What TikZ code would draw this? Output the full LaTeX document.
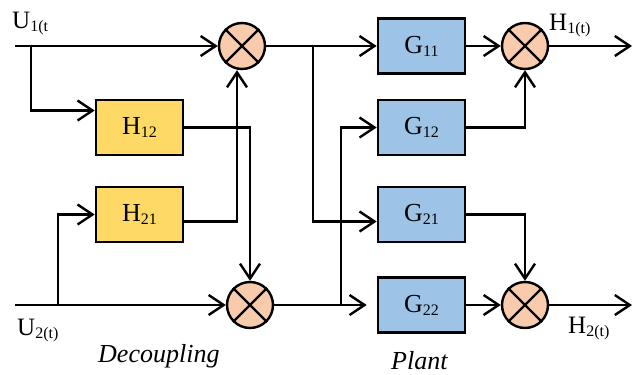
\documentclass[tikz,border=0pt]{standalone}
\usepackage{fontspec}
\setmainfont{Liberation Serif}
\usetikzlibrary{arrows.meta}
\definecolor{hfill}{HTML}{FFD966}
\definecolor{gfill}{HTML}{9DC3E6}
\definecolor{mfill}{HTML}{F8CBAD}
\newcommand{\sbs}[1]{\raisebox{-3pt}{\fontsize{16}{16}\selectfont #1}}

\begin{document}
\begin{tikzpicture}[x=1pt,y=-1pt,line width=2.4pt,
    >={Straight Barb[length=15pt,width=20pt]},
    hbox/.style={draw,fill=hfill,line width=2.6pt,minimum width=87pt,minimum height=55pt,inner sep=0pt,font=\fontsize{26}{26}\selectfont},
    gbox/.style={hbox,fill=gfill},
    mix/.style={draw,circle,fill=mfill,minimum size=46pt,inner sep=0pt},
    lbl/.style={anchor=base west,inner sep=0pt,font=\fontsize{25}{25}\selectfont}]
    \useasboundingbox (0,0) rectangle (633,375);

    \node[hbox] (h12) at (139.5,127.5) {H\sbs{12}};
    \node[hbox] (h21) at (139.5,214.5) {H\sbs{21}};
    \node[gbox] (g11) at (421.5,46) {G\sbs{11}};
    \node[gbox] (g12) at (421.5,127.5) {G\sbs{12}};
    \node[gbox] (g21) at (421.5,214.5) {G\sbs{21}};
    \node[gbox] (g22) at (421.5,305) {G\sbs{22}};

    \node[mix] (m1) at (242,46) {};
    \node[mix] (m2) at (250,305) {};
    \node[mix] (m3) at (525,46) {};
    \node[mix] (m4) at (525,305) {};
    \foreach \m in {m1,m2,m3,m4}
      \draw (\m.north west) -- (\m.south east) (\m.north east) -- (\m.south west);

    \coordinate (u1) at (15,46);
    \coordinate (u2) at (15,305);
    \coordinate (b1) at (31,46);
    \coordinate (b2) at (58,305);
    \coordinate (b3) at (313,46);
    \coordinate (b4) at (341,305);
    \coordinate (y1) at (632,46);
    \coordinate (y2) at (632,305);

    \draw[->] (u1) -- (m1.west);
    \draw[->] (b1) |- ([yshift=17pt]h12.west);
    \draw[->] (u2) -- (m2.west);
    \draw[->] (b2) |- (h21.west);
    \draw[->] (h12.east) -| (m2.north);
    \draw[->] ([yshift=-7pt]h21.east) -| ([xshift=-5pt]m1.south);

    \draw[->] (m1.east) -- (g11.west);
    \draw[->] (b3) |- ([yshift=-7pt]g21.west);
    \draw[->] (m2.east) -- ([xshift=-10pt]g22.west);
    \draw[->] (b4) |- (g12.west);

    \draw[->] (g11.east) -- (m3.west);
    \draw[->] (g12.east) -| (m3.south);
    \draw[->] (g21.east) -| (m4.north);
    \draw[->] (g22.east) -- (m4.west);
    \draw[->] (m3.east) -- (y1);
    \draw[->] (m4.east) -- (y2);

    \node[lbl] (lu1) at (11,28) {U\sbs{1(t}};
    \node[lbl] (lu2) at (16,335) {U\sbs{2(t)}};
    \node[lbl] (ly1) at (548,30) {H\sbs{1(t)}};
    \node[lbl] (ly2) at (567,333) {H\sbs{2(t)}};
    \node[lbl,font=\fontsize{26}{26}\selectfont\itshape] (dec) at (97,362) {Decoupling};
    \node[lbl,font=\fontsize{26}{26}\selectfont\itshape] (plant) at (390,369) {Plant};
  \end{tikzpicture}
\end{document}
